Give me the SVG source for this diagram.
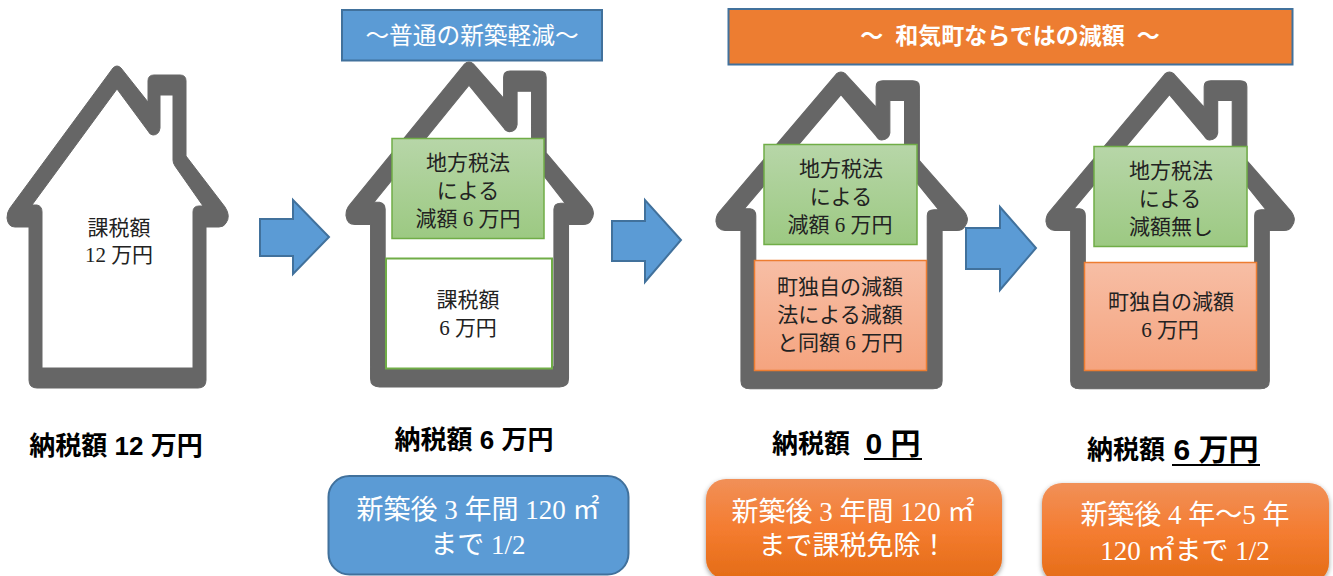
<svg xmlns="http://www.w3.org/2000/svg" width="1333" height="576" viewBox="0 0 1333 576">
<style>
text{font-family:"Liberation Serif","Noto Sans CJK JP",serif;text-anchor:middle}
.b{font-size:21px;fill:#222}
.h{font-size:23.700px;fill:#fff}
.hb{font-size:23px;fill:#fff;font-family:"Liberation Sans","Noto Sans CJK JP",sans-serif;font-weight:700}
.t{font-family:"Liberation Sans","Noto Sans CJK JP",sans-serif;font-weight:700;fill:#000;font-size:26px}
.t2{font-family:"Liberation Sans","Noto Sans CJK JP",sans-serif;font-weight:700;fill:#000;font-size:30px}
.c{font-size:27px;fill:#fff}
.arrow{fill:#5b9bd5;stroke:#41719c;stroke-width:2}
.house{fill:#666;fill-rule:evenodd;stroke:#666;stroke-width:1;stroke-linejoin:round}
.g{fill:url(#gg);stroke:#70ad47;stroke-width:1.5}
.o{fill:url(#go);stroke:#ed7d31;stroke-width:1.5}
.bo{fill:url(#bo);filter:url(#sh)}
.u{stroke:#000;stroke-width:2}
</style>
<defs>
<linearGradient id="gg" x1="0" y1="0" x2="0" y2="1"><stop offset="0" stop-color="#b7d6a8"/><stop offset="1" stop-color="#9cc982"/></linearGradient>
<linearGradient id="go" x1="0" y1="0" x2="0" y2="1"><stop offset="0" stop-color="#f7bea5"/><stop offset="1" stop-color="#f5a47f"/></linearGradient>
<linearGradient id="bo" x1="0" y1="0" x2="0" y2="1"><stop offset="0" stop-color="#f19058"/><stop offset="0.5" stop-color="#f47c30"/><stop offset="1" stop-color="#e46c16"/></linearGradient>
<filter id="sh" x="-5%" y="-10%" width="110%" height="125%"><feDropShadow dx="0" dy="2" stdDeviation="2.500" flood-color="#000" flood-opacity="0.4"/></filter>
<path id="housePath" d="M113 68Q117 64 121 68L148 102V81Q148 75 154 75H180Q186 75 186 81V156L225 207Q231 216 226 223Q224 227 219 227H206V380Q206 388 198 388H37Q29 388 29 380V227H15Q8 227 7 218Q7 212 10 208Z
M117 89L32 205H37Q42 206 42 212V368H193V212Q193 206 199 206H203L175 166Q173 163 173 160V95H160V128Q159 135 153 135Q150 135 148 131Z"/>
</defs>

<g id="connectors">
<polygon class="arrow" points="260,219 293,219 293,200 329,237 293,274 293,256 260,256"/>
<polygon class="arrow" points="612,221 645,221 645,200 681,240 645,282 645,261 612,261"/>
<polygon class="arrow" points="966,228 1000,228 1000,207 1036,248 1000,290 1000,269 966,269"/>
</g>

<g id="header-normal">
<rect x="342" y="10" width="260" height="50.500" fill="#5b9bd5" stroke="#41719c" stroke-width="2"/>
<text class="h" x="472" y="44">～普通の新築軽減～</text>
</g>
<g id="header-town">
<rect x="728.500" y="9" width="564" height="55.500" fill="#ed7d31" stroke="#41719c" stroke-width="2"/>
<text class="hb" x="1010" y="44">～<tspan dx="12">和気町ならではの減額</tspan><tspan dx="12">～</tspan></text>
</g>

<g id="house-1">
<use href="#housePath" class="house"/>
<text class="b" x="119" y="235">課税額</text>
<text class="b" x="119" y="262">12 万円</text>
</g>

<g id="house-2">
<use href="#housePath" class="house" transform="translate(346,62) scale(1.118,1.009) translate(-7,-66)"/>
<rect class="g" x="392" y="138.500" width="152" height="100"/>
<text class="b" x="468" y="170">地方税法</text>
<text class="b" x="468" y="198">による</text>
<text class="b" x="468" y="226">減額 6 万円</text>
<rect x="386" y="258.500" width="166" height="110" fill="#fff" stroke="#70ad47" stroke-width="2"/>
<text class="b" x="468" y="307">課税額</text>
<text class="b" x="468" y="335">6 万円</text>
</g>

<g id="house-3">
<use href="#housePath" class="house" transform="translate(716,72) scale(1.136,0.984) translate(-7,-66)"/>
<rect class="g" x="764" y="144.500" width="153" height="100"/>
<text class="b" x="841" y="176">地方税法</text>
<text class="b" x="841" y="204">による</text>
<text class="b" x="840" y="232">減額 6 万円</text>
<rect class="o" x="754.500" y="260.500" width="172" height="110"/>
<text class="b" x="840" y="294">町独自の減額</text>
<text class="b" x="840" y="322">法による減額</text>
<text class="b" x="840" y="350">と同額 6 万円</text>
</g>

<g id="house-4">
<use href="#housePath" class="house" transform="translate(1046,72) scale(1.122,0.984) translate(-7,-66)"/>
<rect class="g" x="1094" y="146.500" width="153" height="100"/>
<text class="b" x="1171" y="178">地方税法</text>
<text class="b" x="1170" y="206">による</text>
<text class="b" x="1171" y="234">減額無し</text>
<rect class="o" x="1084.500" y="262.500" width="172" height="108"/>
<text class="b" x="1171" y="309">町独自の減額</text>
<text class="b" x="1170" y="337">6 万円</text>
</g>

<g id="tax-1"><text class="t" x="116" y="455">納税額 12 万円</text></g>
<g id="tax-2"><text class="t" x="474" y="449">納税額 6 万円</text></g>
<g id="tax-3">
<text class="t" x="811" y="453">納税額</text>
<text class="t2" x="893" y="454">0 円</text>
<line class="u" x1="864" y1="459" x2="922" y2="459"/>
</g>
<g id="tax-4">
<text class="t" x="1126" y="459">納税額</text>
<text class="t2" x="1216" y="460">6 万円</text>
<line class="u" x1="1172" y1="465" x2="1260" y2="465"/>
</g>

<g id="note-normal">
<rect x="328.500" y="476" width="300" height="98.500" rx="21" fill="#5b9bd5" stroke="#41719c" stroke-width="2"/>
<text class="c" x="478" y="519">新築後 3 年間 120 ㎡</text>
<text class="c" x="478" y="554">まで 1/2</text>
</g>
<g id="note-town-1">
<rect class="bo" x="706" y="479" width="296" height="100" rx="20"/>
<text class="c" x="853" y="521">新築後 3 年間 120 ㎡</text>
<text class="c" x="853" y="555">まで課税免除！</text>
</g>
<g id="note-town-2">
<rect class="bo" x="1042" y="483" width="287" height="100" rx="20"/>
<text class="c" x="1185" y="524">新築後 4 年～5 年</text>
<text class="c" x="1185" y="560">120 ㎡まで 1/2</text>
</g>
</svg>
